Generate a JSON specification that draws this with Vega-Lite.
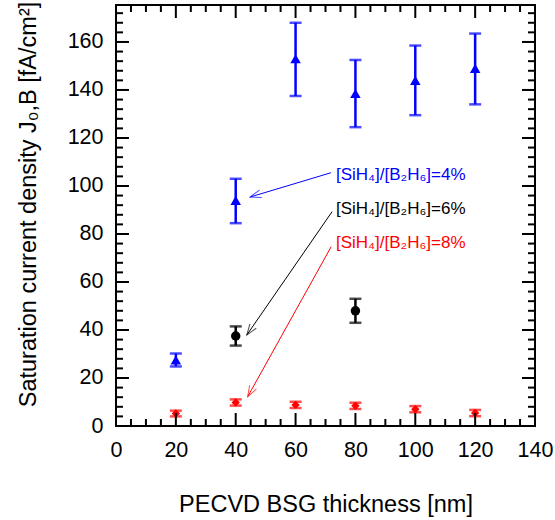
{
  "$schema": "https://vega.github.io/schema/vega-lite/v6.json",
  "autosize": "none",
  "padding": {"left": 116, "top": 5, "right": 20, "bottom": 94},
  "width": 419,
  "height": 421,
  "config": {
    "font": "Liberation Sans",
    "view": {"stroke": "black", "strokeWidth": 2},
    "axis": {"grid": false, "domain": false, "labelColor": "black", "titleColor": "black", "labelFont": "Liberation Sans", "titleFont": "Liberation Sans", "titleFontWeight": "normal"}
  },
  "datasets": {
    "pts": [
      {"x": 20, "y": 27.5, "lo": 24.8, "hi": 30.2, "s": "4%"},
      {"x": 40, "y": 94, "lo": 84.5, "hi": 103, "s": "4%"},
      {"x": 60, "y": 153, "lo": 137.5, "hi": 168, "s": "4%"},
      {"x": 80, "y": 138.5, "lo": 124.5, "hi": 152.5, "s": "4%"},
      {"x": 100, "y": 144, "lo": 129.5, "hi": 158.5, "s": "4%"},
      {"x": 120, "y": 149, "lo": 134, "hi": 163.5, "s": "4%"},
      {"x": 40, "y": 37.5, "lo": 33.5, "hi": 41.5, "s": "6%"},
      {"x": 80, "y": 48, "lo": 43, "hi": 53, "s": "6%"},
      {"x": 20, "y": 5.2, "lo": 4, "hi": 6.4, "s": "8%"},
      {"x": 40, "y": 9.8, "lo": 8.5, "hi": 11.1, "s": "8%"},
      {"x": 60, "y": 8.8, "lo": 7.5, "hi": 10.1, "s": "8%"},
      {"x": 80, "y": 8.4, "lo": 7.1, "hi": 9.7, "s": "8%"},
      {"x": 100, "y": 7, "lo": 5.7, "hi": 8.3, "s": "8%"},
      {"x": 120, "y": 5.4, "lo": 4.1, "hi": 6.7, "s": "8%"}
    ],
    "labels": [
      {"x": 73.5, "y": 104.6, "s": "4%", "label": "[SiH₄]/[B₂H₆]=4%"},
      {"x": 73.5, "y": 90.4, "s": "6%", "label": "[SiH₄]/[B₂H₆]=6%"},
      {"x": 73.5, "y": 76.3, "s": "8%", "label": "[SiH₄]/[B₂H₆]=8%"}
    ],
    "arrows": [
      {"x": 71.8, "y": 105.5, "x2": 44.8, "y2": 95.4, "s": "4%"},
      {"x": 72.2, "y": 89.3, "x2": 43.7, "y2": 37.9, "s": "6%"},
      {"x": 71.9, "y": 74.7, "x2": 44.0, "y2": 12.2, "s": "8%"}
    ],
    "xmaj": [{"v": 0}, {"v": 20}, {"v": 40}, {"v": 60}, {"v": 80}, {"v": 100}, {"v": 120}, {"v": 140}],
    "xmin": [{"v": 5}, {"v": 10}, {"v": 15}, {"v": 25}, {"v": 30}, {"v": 35}, {"v": 45}, {"v": 50}, {"v": 55}, {"v": 65}, {"v": 70}, {"v": 75}, {"v": 85}, {"v": 90}, {"v": 95}, {"v": 105}, {"v": 110}, {"v": 115}, {"v": 125}, {"v": 130}, {"v": 135}],
    "ymaj": [{"v": 0}, {"v": 20}, {"v": 40}, {"v": 60}, {"v": 80}, {"v": 100}, {"v": 120}, {"v": 140}, {"v": 160}],
    "ymin": [{"v": 4}, {"v": 8}, {"v": 12}, {"v": 16}, {"v": 24}, {"v": 28}, {"v": 32}, {"v": 36}, {"v": 44}, {"v": 48}, {"v": 52}, {"v": 56}, {"v": 64}, {"v": 68}, {"v": 72}, {"v": 76}, {"v": 84}, {"v": 88}, {"v": 92}, {"v": 96}, {"v": 104}, {"v": 108}, {"v": 112}, {"v": 116}, {"v": 124}, {"v": 128}, {"v": 132}, {"v": 136}, {"v": 144}, {"v": 148}, {"v": 152}, {"v": 156}, {"v": 164}, {"v": 168}, {"v": 172}]
  },
  "resolve": {"axis": {"x": "independent", "y": "independent"}},
  "layer": [
    {
      "data": {"name": "pts"},
      "mark": {"type": "rule", "strokeWidth": 2.5},
      "encoding": {
        "x": {"field": "x", "type": "quantitative", "scale": {"domain": [0, 140], "nice": false}, "axis": null},
        "y": {"field": "lo", "type": "quantitative", "scale": {"domain": [0, 175.4], "nice": false}, "axis": null},
        "y2": {"field": "hi"},
        "color": {"field": "s", "type": "nominal", "scale": {"domain": ["4%", "6%", "8%"], "range": ["#0000ff", "#000000", "#ff0000"]}, "legend": null}
      }
    },
    {
      "data": {"name": "pts"},
      "mark": {"type": "tick", "orient": "horizontal", "size": 12, "thickness": 2.5},
      "encoding": {
        "x": {"field": "x", "type": "quantitative", "axis": null},
        "y": {"field": "lo", "type": "quantitative", "axis": null},
        "color": {"field": "s", "type": "nominal", "legend": null}
      }
    },
    {
      "data": {"name": "pts"},
      "mark": {"type": "tick", "orient": "horizontal", "size": 12, "thickness": 2.5},
      "encoding": {
        "x": {"field": "x", "type": "quantitative", "axis": null},
        "y": {"field": "hi", "type": "quantitative", "axis": null},
        "color": {"field": "s", "type": "nominal", "legend": null}
      }
    },
    {
      "data": {"name": "pts"},
      "mark": {"type": "point", "filled": true, "opacity": 1},
      "encoding": {
        "x": {"field": "x", "type": "quantitative", "axis": {
          "orient": "bottom",
          "values": [0,20,40,60,80,100,120,140],
          "ticks": false,
          "labelFontSize": 21.5, "labelPadding": 13, "labelFlush": false,
          "title": "PECVD BSG thickness [nm]", "titleFontSize": 23.5, "titleY": 66
        }},
        "y": {"field": "y", "type": "quantitative", "axis": {
          "orient": "left",
          "values": [0,20,40,60,80,100,120,140,160],
          "ticks": false,
          "labelFontSize": 21.5, "labelPadding": 13, "labelFlush": false,
          "title": "Saturation current density J₀,B [fA/cm²]", "titleFontSize": 23.5, "titleX": -76, "titleY": 199
        }},
        "color": {"field": "s", "type": "nominal", "legend": null},
        "shape": {"field": "s", "type": "nominal", "scale": {"domain": ["4%", "6%", "8%"], "range": ["triangle-up", "circle", "diamond"]}, "legend": null},
        "size": {"field": "s", "type": "nominal", "scale": {"domain": ["4%", "6%", "8%"], "range": [110, 70, 150]}, "legend": null}
      }
    },
    {
      "data": {"name": "xmaj"},
      "mark": {"type": "tick", "orient": "vertical", "size": 13, "thickness": 2, "color": "#000000", "opacity": 1},
      "encoding": {
        "x": {"field": "v", "type": "quantitative", "axis": null},
        "y": {"datum": 2.71, "type": "quantitative", "axis": null}
      }
    },
    {
      "data": {"name": "xmaj"},
      "mark": {"type": "tick", "orient": "vertical", "size": 13, "thickness": 2, "color": "#000000", "opacity": 1},
      "encoding": {
        "x": {"field": "v", "type": "quantitative", "axis": null},
        "y": {"datum": 172.69, "type": "quantitative", "axis": null}
      }
    },
    {
      "data": {"name": "xmin"},
      "mark": {"type": "tick", "orient": "vertical", "size": 7, "thickness": 2, "color": "#000000", "opacity": 1},
      "encoding": {
        "x": {"field": "v", "type": "quantitative", "axis": null},
        "y": {"datum": 1.46, "type": "quantitative", "axis": null}
      }
    },
    {
      "data": {"name": "xmin"},
      "mark": {"type": "tick", "orient": "vertical", "size": 7, "thickness": 2, "color": "#000000", "opacity": 1},
      "encoding": {
        "x": {"field": "v", "type": "quantitative", "axis": null},
        "y": {"datum": 173.94, "type": "quantitative", "axis": null}
      }
    },
    {
      "data": {"name": "ymaj"},
      "mark": {"type": "tick", "orient": "horizontal", "size": 13, "thickness": 2, "color": "#000000", "opacity": 1},
      "encoding": {
        "y": {"field": "v", "type": "quantitative", "axis": null},
        "x": {"datum": 2.17, "type": "quantitative", "axis": null}
      }
    },
    {
      "data": {"name": "ymaj"},
      "mark": {"type": "tick", "orient": "horizontal", "size": 13, "thickness": 2, "color": "#000000", "opacity": 1},
      "encoding": {
        "y": {"field": "v", "type": "quantitative", "axis": null},
        "x": {"datum": 137.83, "type": "quantitative", "axis": null}
      }
    },
    {
      "data": {"name": "ymin"},
      "mark": {"type": "tick", "orient": "horizontal", "size": 7, "thickness": 2, "color": "#000000", "opacity": 1},
      "encoding": {
        "y": {"field": "v", "type": "quantitative", "axis": null},
        "x": {"datum": 1.17, "type": "quantitative", "axis": null}
      }
    },
    {
      "data": {"name": "ymin"},
      "mark": {"type": "tick", "orient": "horizontal", "size": 7, "thickness": 2, "color": "#000000", "opacity": 1},
      "encoding": {
        "y": {"field": "v", "type": "quantitative", "axis": null},
        "x": {"datum": 138.83, "type": "quantitative", "axis": null}
      }
    },
    {
      "data": {"name": "arrows"},
      "mark": {"type": "rule", "strokeWidth": 1},
      "encoding": {
        "x": {"field": "x", "type": "quantitative", "axis": null},
        "y": {"field": "y", "type": "quantitative", "axis": null},
        "x2": {"field": "x2"},
        "y2": {"field": "y2"},
        "color": {"field": "s", "type": "nominal", "legend": null}
      }
    },
    {
      "data": {"name": "arrows"},
      "transform": [{"filter": "datum.s === '4%'"}],
      "mark": {"type": "point", "shape": "M-0.35,1L0,0L0.35,1", "filled": false, "strokeWidth": 1, "size": 484, "angle": 253},
      "encoding": {
        "x": {"field": "x2", "type": "quantitative", "axis": null},
        "y": {"field": "y2", "type": "quantitative", "axis": null},
        "color": {"field": "s", "type": "nominal", "legend": null}
      }
    },
    {
      "data": {"name": "arrows"},
      "transform": [{"filter": "datum.s === '6%'"}],
      "mark": {"type": "point", "shape": "M-0.35,1L0,0L0.35,1", "filled": false, "strokeWidth": 1, "size": 484, "angle": 215},
      "encoding": {
        "x": {"field": "x2", "type": "quantitative", "axis": null},
        "y": {"field": "y2", "type": "quantitative", "axis": null},
        "color": {"field": "s", "type": "nominal", "legend": null}
      }
    },
    {
      "data": {"name": "arrows"},
      "transform": [{"filter": "datum.s === '8%'"}],
      "mark": {"type": "point", "shape": "M-0.35,1L0,0L0.35,1", "filled": false, "strokeWidth": 1, "size": 484, "angle": 209},
      "encoding": {
        "x": {"field": "x2", "type": "quantitative", "axis": null},
        "y": {"field": "y2", "type": "quantitative", "axis": null},
        "color": {"field": "s", "type": "nominal", "legend": null}
      }
    },
    {
      "data": {"name": "labels"},
      "mark": {"type": "text", "align": "left", "baseline": "middle", "fontSize": 17, "font": "Liberation Sans"},
      "encoding": {
        "x": {"field": "x", "type": "quantitative", "axis": null},
        "y": {"field": "y", "type": "quantitative", "axis": null},
        "text": {"field": "label"},
        "color": {"field": "s", "type": "nominal", "legend": null}
      }
    }
  ]
}
